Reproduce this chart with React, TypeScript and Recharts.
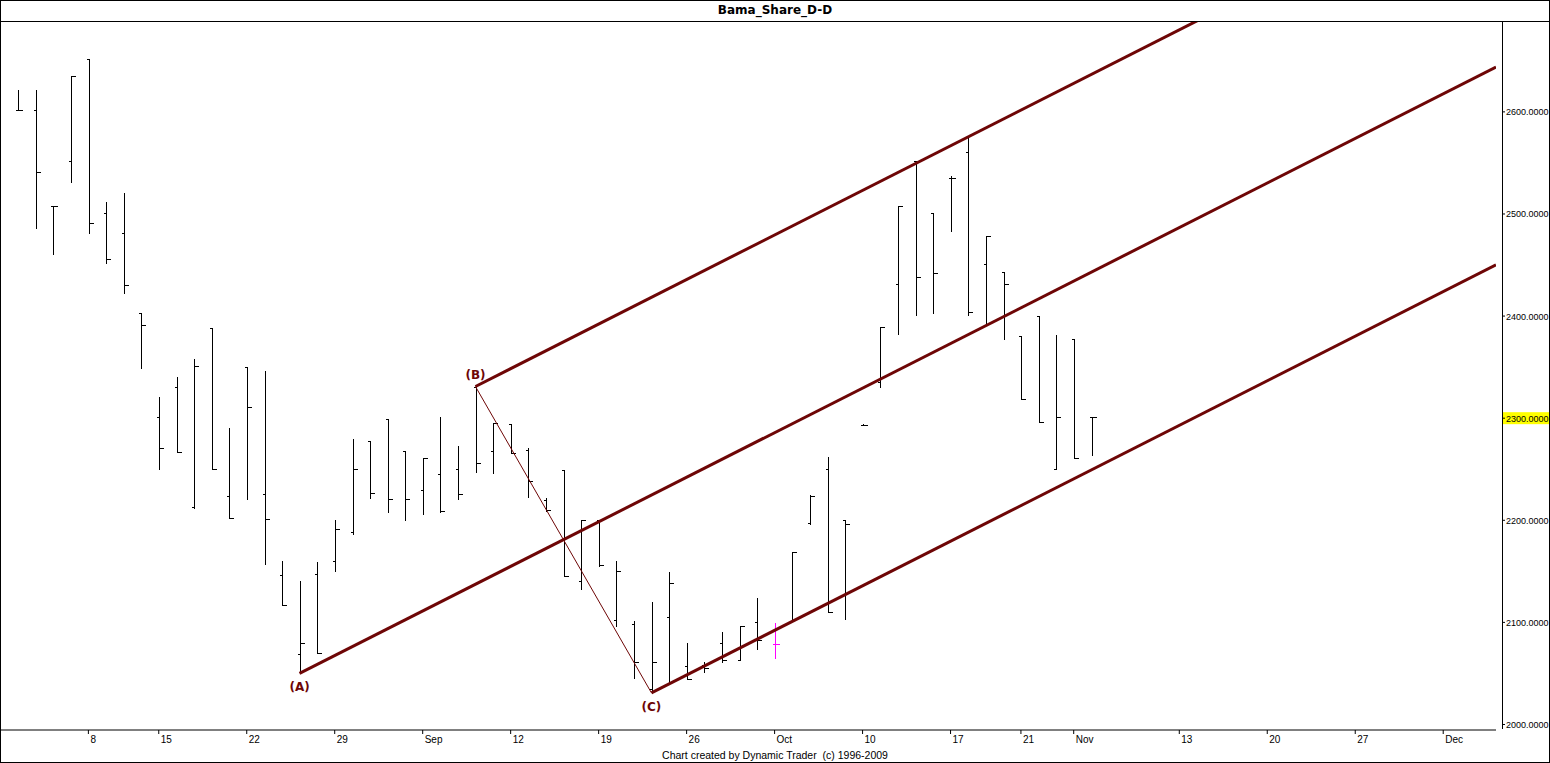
import { ComposedChart, Bar, Line, Scatter, XAxis, YAxis } from "recharts";

// daily OHLC, one entry per trading day (index = slot on the time axis)
const opens = [
  2602, 2602, 2508, 2552, 2652, 2501, 2481, 2403, 2301, 2331,
  2213, 2388, 2224, 2350, 2226, 2146, 2069, 2147, 2160, 2189,
  2278, 2299, 2268, 2230, 2245, 2250, 2331, 2268, 2294, 2269,
  2220, 2249, 2141, 2200, 2102, 2098, 2035, 2105, 2057, 2058,
  2080, 2063, 2100, 2079, 2101, 2197, 2250, 2200, 2293.5, 2335,
  2431, 2552, 2501, 2535, 2561, 2451, 2443, 2380, 2400, 2250,
  2378, 2301,
];
const highs = [
  2621, 2621, 2508, 2635, 2652, 2512, 2521, 2403, 2321, 2340,
  2358, 2388, 2290, 2350, 2346, 2160, 2141, 2159, 2200, 2280,
  2278, 2299, 2268, 2261, 2301, 2273, 2331, 2295, 2294, 2271,
  2222, 2249, 2200, 2200, 2160, 2101, 2120, 2149, 2080, 2061,
  2091, 2096, 2124, 2099, 2169, 2225, 2262, 2200, 2294, 2389,
  2508, 2552, 2501, 2537, 2575, 2478, 2443, 2380, 2400, 2381,
  2378, 2301,
];
const lows = [
  2602, 2486, 2461, 2531, 2481, 2452, 2423, 2349, 2250, 2267,
  2212, 2250, 2202, 2221, 2157, 2117, 2050, 2070, 2150, 2187,
  2222, 2208, 2200, 2206, 2208, 2221, 2247, 2246, 2266, 2223,
  2209, 2145, 2133, 2155, 2096, 2046, 2031, 2041, 2045, 2051,
  2061, 2063, 2074, 2065, 2101, 2196, 2110, 2103, 2293, 2331,
  2382, 2401, 2403, 2483, 2401, 2392, 2378, 2319, 2296, 2250,
  2261, 2264,
];
const closes = [
  2602, 2541, 2508, 2635, 2491, 2456, 2430, 2391, 2271, 2267,
  2351, 2250, 2202, 2311, 2201, 2117, 2080, 2070, 2191, 2250,
  2227, 2221, 2221, 2261, 2209, 2226, 2256, 2295, 2266, 2238,
  2210, 2145, 2200, 2156, 2150, 2061, 2061, 2139, 2045, 2055,
  2063, 2096, 2083, 2079, 2169, 2224, 2110, 2196, 2293.5, 2389,
  2508, 2438, 2442, 2535, 2404, 2478, 2431, 2319, 2296, 2301,
  2261, 2301,
];
const markedBar = 43;

// date labels on the time axis
const xTickSlots = [4, 8, 13, 18, 23, 28, 33, 38, 43, 48, 53, 57, 60, 66, 71, 76, 81];
const xTickLabels = ["8", "15", "22", "29", "Sep", "12", "19", "26", "Oct", "10", "17", "21", "Nov", "13", "20", "27", "Dec"];
const yTicks = [2000, 2100, 2200, 2300, 2400, 2500, 2600];
const lastPrice = 2300;

// pitchfork pivots
const pivots = [
  { name: "(A)", x: 16, y: 2050, kind: "low" },
  { name: "(B)", x: 26, y: 2331, kind: "high" },
  { name: "(C)", x: 36, y: 2031, kind: "low" },
];
const forkEnd = 84;

const ohlc = highs.map((h, i) => ({
  x: i,
  open: opens[i],
  high: h,
  low: lows[i],
  close: closes[i],
}));

const [pA, pB, pC] = pivots;
const midX = (pB.x + pC.x) / 2;
const midY = (pB.y + pC.y) / 2;
const slope = (midY - pA.y) / (midX - pA.x);
const tine = (p: { x: number; y: number }) => [
  { x: p.x, y: p.y },
  { x: forkEnd, y: p.y + slope * (forkEnd - p.x) },
];
const median = tine(pA);
const upper = tine(pB);
const lower = tine(pC);
const bcLine = [
  { x: pB.x, y: pB.y },
  { x: pC.x, y: pC.y },
];

const FORK = "#6e0606";
const AXIS_FONT = "'Liberation Sans', Arial, sans-serif";

function OhlcBar(props: any) {
  const { x, y, width, height, payload } = props;
  const top = Math.min(y, y + height);
  const bot = Math.max(y, y + height);
  const span = payload.high - payload.low;
  const py = (v: number) =>
    Math.round(span === 0 ? top : top + ((payload.high - v) / span) * (bot - top)) + 0.5;
  const cx = Math.round(x + width / 2) + 0.5;
  const color = payload.x === markedBar ? "#ff00ff" : "#000";
  return (
    <g stroke={color} strokeWidth={1} shapeRendering="crispEdges">
      <line x1={cx} x2={cx} y1={Math.round(top)} y2={Math.round(bot) + 1} />
      <line x1={cx - 3} x2={cx} y1={py(payload.open)} y2={py(payload.open)} />
      <line x1={cx} x2={cx + 4} y1={py(payload.close)} y2={py(payload.close)} />
    </g>
  );
}

function PivotLabel(props: any) {
  const { cx, cy, payload } = props;
  return (
    <text
      x={cx}
      y={payload.kind === "high" ? cy - 8 : cy + 18}
      textAnchor="middle"
      fill={FORK}
      fontFamily="'DejaVu Sans', sans-serif"
      fontWeight="bold"
      fontSize={12}
    >
      {payload.name}
    </text>
  );
}

function XTick(props: any) {
  const { x, y, payload } = props;
  const label = xTickLabels[xTickSlots.indexOf(payload.value)];
  return (
    <text x={x + 2} y={y + 9} fontFamily={AXIS_FONT} fontSize={10} fill="#000">
      {label}
    </text>
  );
}

function YTick(props: any) {
  const { x, y, payload } = props;
  const hot = payload.value === lastPrice;
  return (
    <g>
      {hot && <rect x={x + 7} y={y - 6} width={47} height={12} fill="#ffff00" />}
      <line x1={x + 6} x2={x + 9} y1={y} y2={y} stroke="#000" />
      <text x={x + 10} y={y + 3.5} fontFamily={AXIS_FONT} fontSize={9} fill="#000">
        {payload.value.toFixed(4)}
      </text>
    </g>
  );
}

export default function App() {
  return (
    <div
      style={{
        position: "absolute",
        left: 0,
        top: 0,
        width: 1550,
        height: 763,
        background: "#fff",
        overflow: "hidden",
      }}
    >
      <ComposedChart
        width={1550}
        height={763}
        data={ohlc}
        margin={{ top: 21, right: 0, bottom: 0, left: 0 }}
      >
        <XAxis
          dataKey="x"
          type="number"
          domain={[-1.023, forkEnd]}
          allowDataOverflow
          ticks={xTickSlots}
          interval={0}
          height={33}
          tickSize={4}
          tickMargin={0}
          axisLine={{ stroke: "#000" }}
          tickLine={{ stroke: "#000" }}
          tick={<XTick />}
        />
        <YAxis
          orientation="right"
          type="number"
          domain={[1994.6, 2689]}
          allowDataOverflow
          ticks={yTicks}
          interval={0}
          width={54}
          tickSize={0}
          tickMargin={0}
          axisLine={false}
          tickLine={false}
          tick={<YTick />}
        />
        <Line data={median} dataKey="y" stroke={FORK} strokeWidth={3} dot={false} isAnimationActive={false} />
        <Line data={upper} dataKey="y" stroke={FORK} strokeWidth={3} dot={false} isAnimationActive={false} />
        <Line data={lower} dataKey="y" stroke={FORK} strokeWidth={3} dot={false} isAnimationActive={false} />
        <Line data={bcLine} dataKey="y" stroke={FORK} strokeWidth={1} dot={false} isAnimationActive={false} />
        <Bar
          dataKey={(d: any) => [d.low, d.high]}
          barSize={8}
          shape={<OhlcBar />}
          isAnimationActive={false}
        />
        <Scatter data={pivots} dataKey="y" shape={<PivotLabel />} isAnimationActive={false} />
      </ComposedChart>
      <div
        style={{
          position: "absolute",
          left: 0,
          top: 2,
          width: 1550,
          textAlign: "center",
          fontFamily: "'DejaVu Sans', sans-serif",
          fontWeight: "bold",
          fontSize: 12,
          lineHeight: "16px",
        }}
      >
        Bama_Share_D-D
      </div>
      <div
        style={{
          position: "absolute",
          left: 0,
          top: 748,
          width: 1550,
          textAlign: "center",
          fontFamily: AXIS_FONT,
          fontSize: 10.5,
          lineHeight: "14px",
          whiteSpace: "pre",
        }}
      >
        Chart created by Dynamic Trader  (c) 1996-2009
      </div>
      <div style={{ position: "absolute", left: 0, top: 21, width: 1550, height: 1, background: "#000" }} />
      <div style={{ position: "absolute", left: 1502, top: 21, width: 1, height: 708, background: "#000" }} />
      <div
        style={{
          position: "absolute",
          left: 0,
          top: 0,
          width: 1550,
          height: 763,
          boxSizing: "border-box",
          border: "1px solid #000",
          pointerEvents: "none",
        }}
      />
    </div>
  );
}
